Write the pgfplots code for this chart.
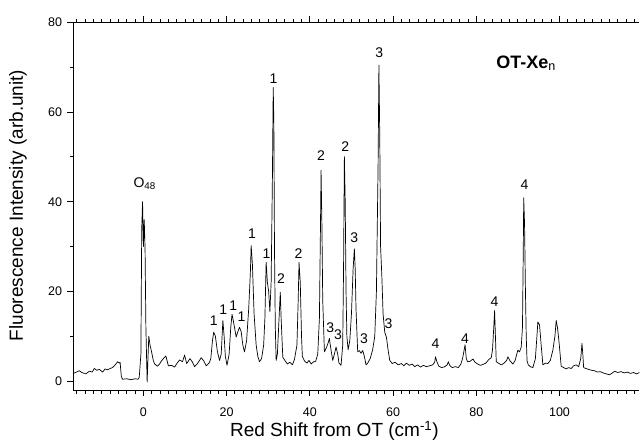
\documentclass[border=0pt]{standalone}
\usepackage{fontspec}
\setmainfont{Liberation Sans}
\usepackage{pgfplots}
\pgfplotsset{compat=1.18}
\begin{document}
\begin{tikzpicture}
\begin{axis}[
  scale only axis, width=566pt, height=368pt,
  xmin=-16.8, xmax=119.2, ymin=-2.1, ymax=80,
  axis x line*=box, axis y line*=left,
  axis line style={line width=1.2pt, black, -},
  xtick={0,20,40,60,80,100}, minor x tick num=9,
  extra x ticks={-16,-14,-12,-10,-8,-6,-4,-2,102,104,106,108,110,112,114,116,118},
  extra x tick labels={},
  extra x tick style={major tick length=3.5pt},
  ytick={0,20,40,60,80}, minor y tick num=1,
  tick align=outside,
  major tick length=6pt, minor tick length=3.5pt,
  tick style={black, line width=0.9pt},
  /pgf/number format/assume math mode=true,
  tick label style={font=\fontsize{12.5}{14}\selectfont},
  yticklabel style={xshift=-2pt},
  xticklabel style={yshift=-8pt},
  xlabel={Red Shift from OT (cm\textsuperscript{-1})},
  ylabel={Fluorescence Intensity (arb.unit)},
  xlabel style={font=\fontsize{19}{22}\selectfont, at={(axis description cs:0.461,-0.109)}, anchor=center},
  ylabel style={font=\fontsize{19}{22}\selectfont, at={(axis description cs:-0.098,0.503)}, anchor=center},
  clip=true,
]
\addplot[black, line width=0.7pt, line join=round, mark=none] table {
-16.8 1.7
-16.3 1.9
-15.4 2.3
-14.8 1.9
-13.8 1.6
-13.0 2.2
-12.3 2.0
-11.8 2.8
-11.2 2.4
-10.6 2.6
-9.8 2.0
-9.2 2.7
-8.6 2.5
-8.0 2.8
-7.4 3.0
-6.8 3.6
-6.2 4.3
-5.8 4.0
-5.6 4.2
-5.3 1.0
-5.0 0.4
-4.0 0.5
-3.0 0.3
-2.0 0.5
-1.3 0.4
-1.0 0.8
-0.6 6
-0.4 34
-0.2 40
0.0 30
0.2 36
0.4 29.5
0.6 12
0.9 -0.2
1.1 5
1.3 10
1.6 8
1.9 6.8
2.4 4.5
2.7 3.8
3.4 3.3
3.9 3.8
4.2 4.3
4.8 5.0
5.4 5.6
6.0 3.4
6.8 3.5
7.5 3.1
8.1 4.0
8.7 4.7
9.4 4.3
9.9 5.8
10.4 3.9
11.2 5.0
11.8 4.2
12.3 3.2
13.0 3.9
13.9 5.2
14.5 4.5
15.1 3.4
15.8 4.0
16.2 5.0
16.6 9.0
16.9 10.9
17.3 10.0
17.8 6.5
18.3 4.6
18.7 6.0
19.1 13.5
19.4 10.0
19.7 5.5
20.1 3.5
20.6 6.0
21.0 12.0
21.3 14.9
21.7 13.0
22.3 9.8
22.7 11.0
23.1 12.0
23.5 11.0
23.9 8.0
24.3 6.5
24.8 9.0
25.3 16.0
25.7 24.0
25.9 30.2
26.2 26.0
26.6 15.0
27.1 8.0
27.5 5.5
27.9 4.3
28.4 5.0
28.9 8.0
29.2 14.0
29.5 26.5
29.8 22.0
30.1 20.0
30.4 15.5
30.7 22.0
31.0 45
31.2 65.5
31.35 58
31.5 30
31.7 12
31.9 4.6
32.2 6
32.5 12
32.9 19.8
33.1 14
33.5 5.3
34.0 4.6
34.6 3.8
35.2 4.2
35.8 3.6
36.3 4.8
36.9 8
37.2 18
37.4 26.5
37.7 22
38.0 10
38.2 5.5
38.7 4.5
39.3 4.0
39.8 4.6
40.3 3.8
40.9 4.3
41.4 4.4
41.9 6.0
42.3 14
42.5 30
42.7 47
42.9 35
43.1 18
43.5 6.5
44.0 7.5
44.4 8.5
44.7 9.5
45.0 7.5
45.5 4.6
45.9 6.0
46.3 7.6
46.7 6.0
47.0 4.0
47.5 3.5
47.9 8
48.1 25
48.3 50.1
48.5 40
48.7 20
48.9 10
49.2 7.0
49.6 9
50.0 15
50.4 25
50.7 29.5
50.9 25
51.1 16
51.5 6.5
51.9 6.8
52.3 6.2
52.7 6.8
53.1 5.5
53.5 3.6
53.9 4.0
54.5 5.0
55.1 7.0
55.6 10
56.0 20
56.4 48
56.6 70.5
56.8 55
57.0 30
57.3 23.5
57.6 15
58.0 10.9
58.4 9.8
58.8 7.0
59.2 4.6
59.8 3.9
60.5 4.2
61.2 3.6
62.0 3.9
62.6 3.4
63.2 4.0
63.9 3.5
64.6 3.8
65.2 3.2
65.9 3.6
66.6 3.1
67.3 3.5
68.0 3.2
68.8 3.4
69.5 3.6
70.0 4.2
70.2 5.4
70.5 4.4
71.0 3.3
71.7 3.0
72.4 3.2
73.0 3.6
73.3 4.3
73.6 3.5
74.2 3.0
75.0 3.2
75.7 3.0
76.3 3.8
76.7 5.0
77.0 6.5
77.3 8.1
77.6 5.0
77.9 4.3
78.5 4.4
79.2 4.9
79.7 4.2
80.3 3.8
81.0 3.5
81.6 3.7
82.3 4.0
83.0 4.8
83.6 5.2
83.9 7.0
84.2 12
84.4 15.7
84.6 10
84.8 4.3
85.3 4.0
86.0 3.6
86.7 4.0
87.3 4.6
87.6 5.4
88.1 4.5
88.8 3.8
89.3 4.5
90.0 6.9
90.4 6.5
90.8 7.6
91.1 12
91.3 30
91.4 40.9
91.6 35
91.8 21
92.0 10
92.2 4.5
92.5 3.6
93.0 3.2
93.6 3.0
94.2 5.0
94.5 9
94.8 13.2
95.2 12.5
95.6 8
96.0 3.6
96.6 4.0
97.2 3.9
97.8 4.6
98.4 6.9
98.9 10
99.2 13.5
99.5 12.0
99.8 9.5
100.1 6.5
100.4 3.3
101.0 3.0
101.6 2.7
102.2 3.0
102.8 2.8
103.4 3.4
104.0 3.6
104.6 3.2
105.1 5.0
105.4 8.4
105.6 6.0
105.8 3.0
106.3 2.8
107.0 2.6
107.7 2.4
108.4 2.3
109.1 2.0
109.8 2.1
110.5 1.8
111.2 1.6
112.0 1.4
112.7 1.8
113.3 2.2
114.0 1.9
114.8 2.1
115.5 1.8
116.3 2.0
117.0 1.7
117.8 1.9
118.5 1.6
119.2 1.9
};
\begin{scope}[every node/.style={font=\fontsize{14}{16}\selectfont, inner sep=0pt}]
\node at (0.3,44) {O\textsubscript{48}};
\node at (16.9,13.4) {1};
\node at (19.2,16.0) {1};
\node at (21.6,16.9) {1};
\node at (23.6,14.3) {1};
\node at (26.1,32.8) {1};
\node at (29.6,28.5) {1};
\node at (31.3,67.5) {1};
\node at (33.1,22.8) {2};
\node at (37.3,28.4) {2};
\node at (42.7,50.3) {2};
\node at (48.5,52.3) {2};
\node at (44.9,11.9) {3};
\node at (46.8,10.4) {3};
\node at (50.7,32.0) {3};
\node at (53.0,9.5) {3};
\node at (56.7,73.2) {3};
\node at (58.9,12.9) {3};
\node at (70.2,8.4) {4};
\node at (77.3,9.5) {4};
\node at (84.4,17.7) {4};
\node at (91.6,43.8) {4};
\end{scope}
\node[anchor=west, inner sep=0pt, font=\fontsize{18}{20}\selectfont\bfseries] at (84.8,70.9) {OT-Xe\textsubscript{\normalfont n}};
\end{axis}
\path (-73.5pt,-53.5pt) rectangle (566.5pt,390.5pt);
\end{tikzpicture}
\end{document}
